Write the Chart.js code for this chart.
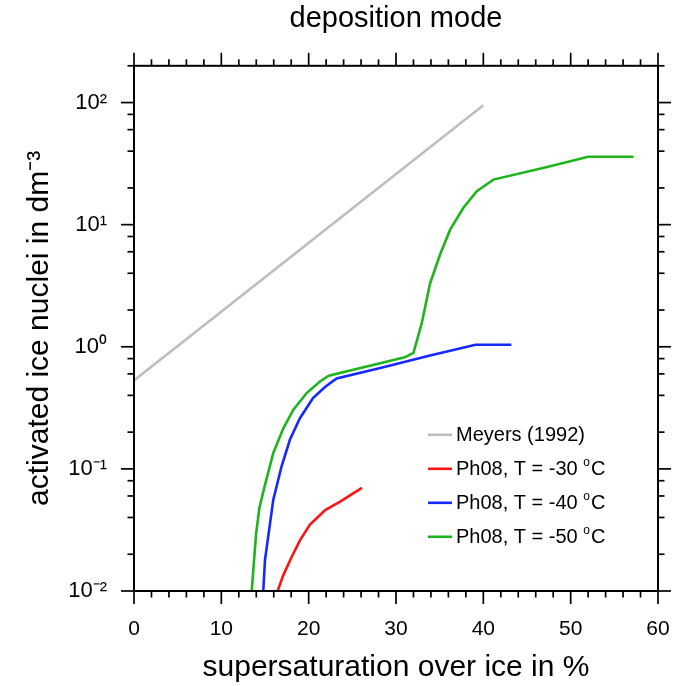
<!DOCTYPE html>
<html><head><meta charset="utf-8">
<script src="https://cdn.jsdelivr.net/npm/chart.js@4/dist/chart.umd.min.js"></script>
<style>html,body{margin:0;padding:0;background:#fff}</style>
</head><body>
<canvas id="c" width="677" height="686" style="width:677px;height:686px;display:block"></canvas>
<script>
// ---------- data ----------
const chartTitle = 'deposition mode';
const xAxisTitle = 'supersaturation over ice in %';
const yAxisTitle = 'activated ice nuclei in dm⁻³';
const xTicks = [0, 10, 20, 30, 40, 50, 60];
const xMinorTicks = [2, 4, 6, 8, 12, 14, 16, 18, 22, 24, 26, 28, 32, 34, 36, 38, 42, 44, 46, 48, 52, 54, 56, 58];
const yTicks = [0.01, 0.1, 1, 10, 100];
const yTickLabels = ['10⁻²', '10⁻¹', '10⁰', '10¹', '10²'];
const yMinorTicks = [0.02, 0.04, 0.06, 0.08, 0.2, 0.4, 0.6, 0.8, 2, 4, 6, 8, 20, 40, 60, 80, 200];
const seriesLabels = ['Meyers (1992)', 'Ph08, T = -30 °C', 'Ph08, T = -40 °C', 'Ph08, T = -50 °C'];
const seriesColors = ['rgb(190,190,190)', 'rgb(255,20,20)', 'rgb(20,40,255)', 'rgb(30,180,30)'];

const meyersX = [0, 40];
const meyersY = [0.53, 95];

const t30X = [16.45, 17.1, 18.05, 19.0, 20.15, 21.9, 23.6, 26.1];
const t30Y = [0.0100, 0.0135, 0.019, 0.026, 0.035, 0.046, 0.054, 0.070];

const t40X = [14.8, 15.0, 15.95, 16.9, 17.85, 19.0, 20.5, 21.9, 23.2, 28.2, 33.9, 39.1, 43.2];
const t40Y = [0.010, 0.018, 0.056, 0.105, 0.173, 0.26, 0.38, 0.47, 0.55, 0.67, 0.85, 1.04, 1.04];

const t50X = [13.48, 13.97, 14.36, 15.0, 15.95, 17.1, 18.25, 19.8, 21.3, 22.3, 31.0, 32.0, 32.95, 33.9, 35.05, 36.2, 37.7, 39.25, 41.15, 47.3, 52.0, 57.2];
const t50Y = [0.010, 0.029, 0.048, 0.074, 0.135, 0.215, 0.305, 0.42, 0.52, 0.58, 0.82, 0.89, 1.56, 3.3, 5.7, 9.1, 13.7, 18.8, 23.4, 29.7, 36, 36];

// ---------- build ----------
const FONT = "'Liberation Sans', Arial, Helvetica, sans-serif";
Chart.defaults.font.family = FONT;
Chart.defaults.color = '#000';

const toPts = (xs, ys) => xs.map((v, i) => ({x: v, y: ys[i]}));
const allSeries = [[meyersX, meyersY], [t30X, t30Y], [t40X, t40Y], [t50X, t50Y]];
const datasets = allSeries.map((s, i) => ({
  label: seriesLabels[i],
  data: toPts(s[0], s[1]),
  borderColor: seriesColors[i],
  backgroundColor: seriesColors[i],
  borderWidth: 2.6,
  pointRadius: 0,
  tension: 0,
  showLine: true,
  fill: false
}));

function drawRich(ctx, text, x, y, size) {
  // draws text; '°' rendered as a raised small 'o'
  const parts = text.split('°');
  let cx = x;
  parts.forEach((p, i) => {
    if (i > 0) {
      ctx.font = Math.round(size * 0.62) + 'px ' + FONT;
      ctx.fillText('o', cx, y - size * 0.38);
      cx += ctx.measureText('o').width + 1;
    }
    ctx.font = size + 'px ' + FONT;
    ctx.fillText(p, cx, y);
    cx += ctx.measureText(p).width;
  });
}

const decor = {
  id: 'decor',
  afterDatasetsDraw(chart) {
    const {ctx, chartArea: a, scales: {x, y}} = chart;
    ctx.save();
    ctx.strokeStyle = '#000';
    ctx.lineCap = 'butt';
    const seg = (x1, y1, x2, y2) => { ctx.beginPath(); ctx.moveTo(x1, y1); ctx.lineTo(x2, y2); ctx.stroke(); };
    ctx.lineWidth = 1.7;
    const MAJ = 13, MIN = 6.5;
    xTicks.forEach(v => { const p = x.getPixelForValue(v); seg(p, a.bottom, p, a.bottom + MAJ); seg(p, a.top, p, a.top - MAJ); });
    xMinorTicks.forEach(v => { const p = x.getPixelForValue(v); seg(p, a.bottom, p, a.bottom + MIN); seg(p, a.top, p, a.top - MIN); });
    yTicks.forEach(v => { const p = y.getPixelForValue(v); seg(a.left, p, a.left - MAJ, p); seg(a.right, p, a.right + MAJ, p); });
    yMinorTicks.forEach(v => { if (v > y.max) return; const p = y.getPixelForValue(v); seg(a.left, p, a.left - MIN, p); seg(a.right, p, a.right + MIN, p); });
    ctx.lineWidth = 2;
    ctx.strokeRect(a.left, a.top, a.right - a.left, a.bottom - a.top);

    // legend
    const lx0 = a.left + 294, lx1 = a.left + 318, tx = a.left + 322;
    const ly0 = a.top + 369, dy = 34;
    ctx.textBaseline = 'middle';
    ctx.textAlign = 'left';
    ctx.fillStyle = '#000';
    datasets.forEach((d, i) => {
      const yy = ly0 + i * dy;
      ctx.strokeStyle = d.borderColor;
      ctx.lineWidth = 2.6;
      seg(lx0, yy, lx1, yy);
      drawRich(ctx, d.label, tx, yy + 1, 20);
    });
    ctx.restore();
  }
};

new Chart(document.getElementById('c'), {
  type: 'scatter',
  data: {datasets},
  options: {
    responsive: false,
    animation: false,
    devicePixelRatio: 1,
    layout: {padding: {top: 0, right: 19, left: 0, bottom: 0}},
    plugins: {
      legend: {display: false},
      tooltip: {enabled: false},
      title: {display: true, fullSize: false, text: chartTitle, font: {size: 29, weight: 'normal'}, color: '#000',
              padding: {top: 2, bottom: 29}}
    },
    scales: {
      x: {
        type: 'linear', min: 0, max: 60,
        afterBuildTicks: s => { s.ticks = xTicks.map(v => ({value: v})); },
        afterFit: s => { s.height = 95; },
        grid: {display: false, drawTicks: true, tickLength: 26},
        border: {display: false},
        ticks: {font: {size: 21}, padding: 0, maxRotation: 0, autoSkip: false, color: '#000'},
        title: {display: true, text: xAxisTitle, font: {size: 30}, color: '#000', padding: {top: 0, bottom: 0}}
      },
      y: {
        type: 'logarithmic', min: 0.01, max: 200,
        afterBuildTicks: s => { s.ticks = yTicks.map(v => ({value: v})); },
        afterFit: s => { s.width = 134; },
        grid: {display: false, drawTicks: true, tickLength: 27},
        border: {display: false},
        ticks: {font: {size: 22}, padding: 0, color: '#000',
                callback: (v) => { const i = yTicks.findIndex(t => Math.abs(t - v) / t < 1e-6); return i >= 0 ? yTickLabels[i] : ''; }},
        title: {display: true, text: yAxisTitle, font: {size: 30}, color: '#000', padding: {top: 22, bottom: 0}}
      }
    }
  },
  plugins: [decor]
});
</script>
</body></html>
